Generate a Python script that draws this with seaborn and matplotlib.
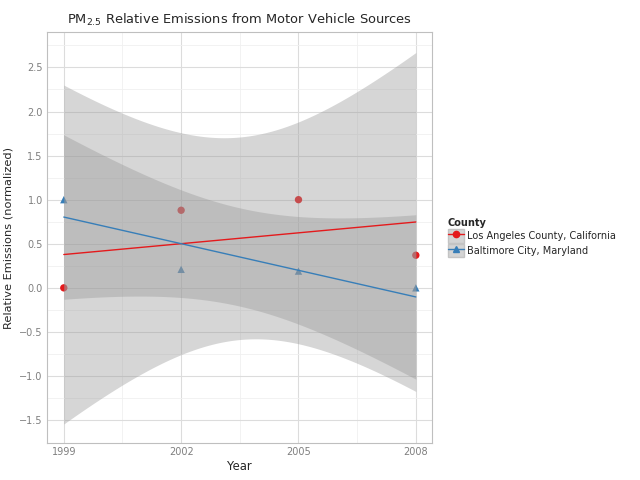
import numpy as np
import pandas as pd
import seaborn as sns
import matplotlib.pyplot as plt
from matplotlib.lines import Line2D
from matplotlib.patches import Patch
from matplotlib.legend_handler import HandlerTuple

# данные (нормализованные выбросы)
years = [1999, 2002, 2005, 2008]
la_values = [0.0, 0.88, 1.0, 0.37]
balt_values = [1.0, 0.21, 0.19, 0.0]
counties = ['Los Angeles County, California', 'Baltimore City, Maryland']
colors = ['#E41A1C', '#377EB8']
markers = ['o', '^']

df = pd.DataFrame({
    'Year': years * 2,
    'Emissions': la_values + balt_values,
    'County': [counties[0]] * 4 + [counties[1]] * 4,
})

sns.set_theme(style='whitegrid')
plt.rcParams['font.family'] = ['DejaVu Sans']

fig = plt.figure(figsize=(6.4, 4.8), dpi=100)
ax = fig.add_axes([0.0734, 0.077, 0.602, 0.856])

# точки
for county, c, m in zip(counties, colors, markers):
    sub = df[df['County'] == county]
    sns.scatterplot(data=sub, x='Year', y='Emissions', color=c, marker=m,
                    s=28, edgecolor='none', ax=ax, zorder=2)

# линейная регрессия + 95% доверительный интервал
xs = np.linspace(1999, 2008, 200)
t_crit = 4.302653  # t(0.975, df=2)
for county, c in zip(counties, colors):
    sub = df[df['County'] == county]
    x = sub['Year'].to_numpy(float)
    y = sub['Emissions'].to_numpy(float)
    b, a = np.polyfit(x, y, 1)
    resid = y - (a + b * x)
    s = np.sqrt(np.sum(resid ** 2) / (len(x) - 2))
    se = s * np.sqrt(1 / len(x) + (xs - x.mean()) ** 2 / np.sum((x - x.mean()) ** 2))
    fit = a + b * xs
    ax.fill_between(xs, fit - t_crit * se, fit + t_crit * se,
                    color='#999999', alpha=0.4, linewidth=0, zorder=3)
    sns.lineplot(x=xs, y=fit, color=c, linewidth=1, ax=ax, zorder=4)

ax.set_xlim(1998.57, 2008.42)
ax.set_ylim(-1.76, 2.9)
ax.set_xticks(years)
ax.set_yticks(np.arange(-1.5, 2.51, 0.5))
ax.set_xticks([2000.5, 2003.5, 2006.5], minor=True)
ax.set_yticks(np.arange(-1.25, 2.9, 0.5), minor=True)
ax.grid(which='major', color='#dcdcdc', linewidth=0.8)
ax.grid(which='minor', color='#f0f0f0', linewidth=0.6)
ax.set_axisbelow(True)
for sp in ax.spines.values():
    sp.set_color('#bfbfbf')
    sp.set_linewidth(0.8)
ax.tick_params(axis='both', which='both', length=0, labelsize=7, labelcolor='#7f7f7f', pad=3)

ax.set_xlabel('Year', fontsize=8.4, labelpad=2)
ax.set_ylabel('Relative Emissions (normalized)', fontsize=8.2, labelpad=4)
ax.set_title(r'PM$_{2.5}$ Relative Emissions from Motor Vehicle Sources', fontsize=9.4, pad=6)

handles = []
for c, m in zip(colors, markers):
    bg = Patch(facecolor='#d4d4d4', edgecolor='#c4c4c4')
    ln = Line2D([], [], color=c, marker=m, markersize=4.5, linewidth=1)
    handles.append((bg, ln))
leg = ax.legend(handles, counties, title='County', loc='center left',
                bbox_to_anchor=(1.03, 0.5), frameon=False, fontsize=7,
                handler_map={tuple: HandlerTuple(ndivide=1, pad=0)},
                handlelength=1.7, handleheight=1.7, handletextpad=0.3,
                labelspacing=0.15, borderaxespad=0)
leg.get_title().set_fontweight('bold')
leg.get_title().set_fontsize(7)
leg._legend_box.align = 'left'

fig.savefig('out.png', dpi=100)
